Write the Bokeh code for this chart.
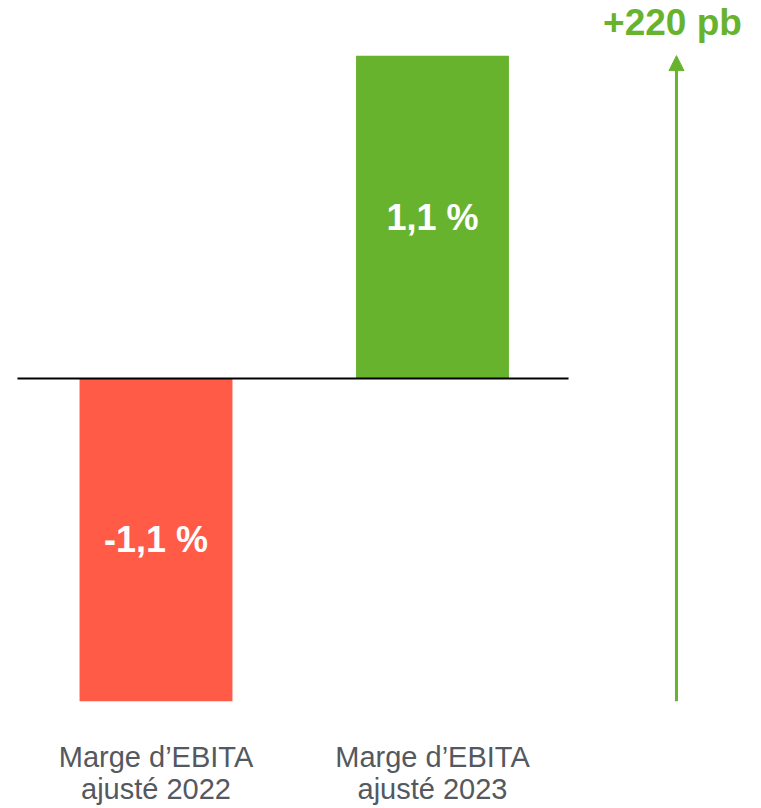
from bokeh.plotting import figure
from bokeh.models import Range1d, ColumnDataSource, Arrow, NormalHead
from bokeh.embed import file_html
from bokeh.resources import INLINE
from bokeh.core.properties import value

categories = ["Marge d\u2019EBITA\najusté 2022", "Marge d\u2019EBITA\najusté 2023"]
margins = [-1.1, 1.1]
bar_labels = ["-1,1 %", "1,1 %"]
bar_colors = ["#FF5B47", "#67B32E"]
delta_label = "+220 pb"

GREEN = "#67B32E"
GRAY = "#53595F"
FONT = "Liberation Sans"

x = list(range(len(categories)))
src = ColumnDataSource(dict(
    x=x, top=[max(v, 0) for v in margins], bottom=[min(v, 0) for v in margins],
    mid=[v / 2 for v in margins], lab=bar_labels, col=bar_colors, cat=categories,
))

p = figure(width=761, height=808, output_backend="svg", toolbar_location=None,
           x_range=Range1d(-0.5624, 2.1899), y_range=Range1d(-1.4651, 1.2879),
           min_border=0, outline_line_color=None)
p.axis.visible = False
p.grid.visible = False
p.background_fill_color = "white"

p.vbar(x="x", width=0.553, top="top", bottom="bottom", fill_color="col",
       line_color=None, source=src)
p.line([-0.501, 1.492], [0, 0], line_color="black", line_width=2)

p.text(x="x", y="mid", text="lab", source=src, text_color="white",
       text_font=value(FONT), text_font_style="bold", text_font_size="36px",
       text_align="center", text_baseline="middle")

p.text(x="x", y=-1.236, text="cat", source=src, text_color=GRAY,
       text_font=value(FONT), text_font_size="29px", text_align="center",
       text_baseline="top", text_line_height=1.0)

ax = 1.8824
p.add_layout(Arrow(x_start=ax, y_start=margins[0], x_end=ax, y_end=margins[1],
                   line_color=GREEN, line_width=3,
                   end=NormalHead(size=15, fill_color=GREEN, line_color=GREEN)))
p.text(x=[1.868], y=[1.213], text=[delta_label], text_color=GREEN,
       text_font=value(FONT), text_font_style="bold", text_font_size="37px",
       text_align="center", text_baseline="middle")

open("out.html", "w").write(file_html(p, INLINE))
